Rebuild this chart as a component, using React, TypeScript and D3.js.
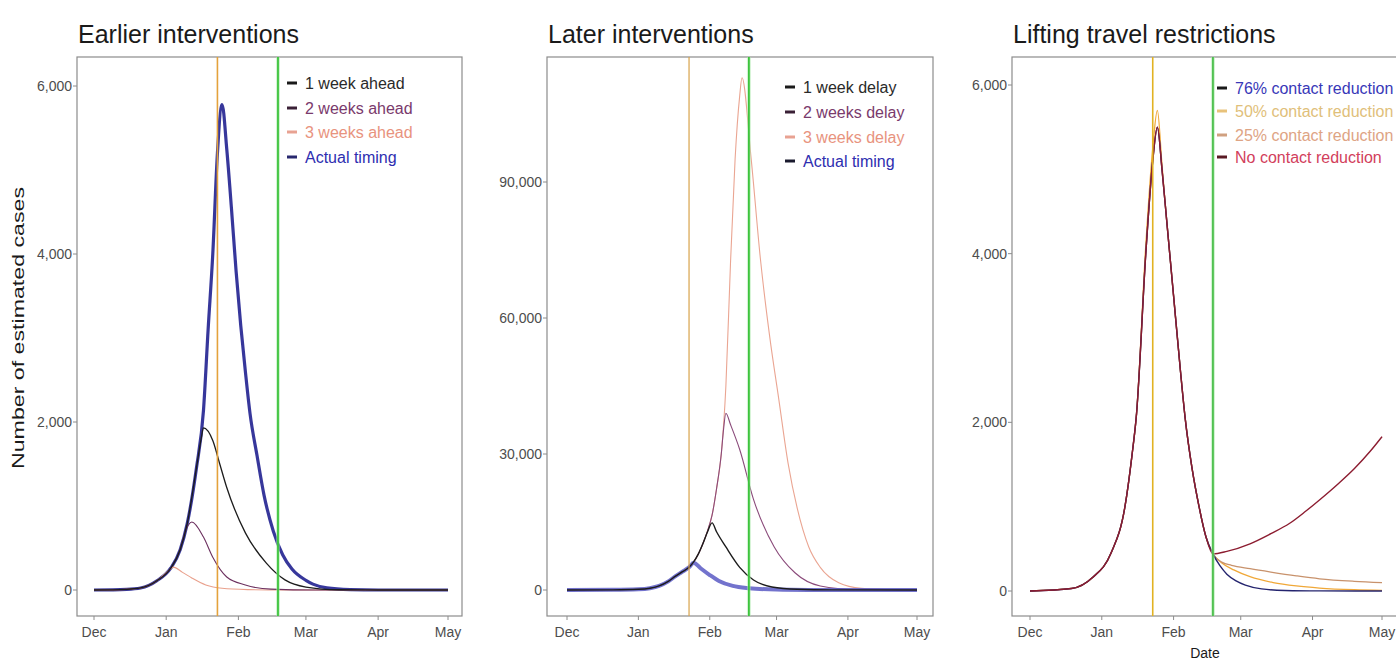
import React from "react";
import * as d3 from "d3";

type Pt = [string, number];

// ---------- shared axis data ----------
const monthTicks = ["2019-12-01", "2020-01-01", "2020-02-01", "2020-03-01", "2020-04-01", "2020-05-01"];
const monthLabels = ["Dec", "Jan", "Feb", "Mar", "Apr", "May"];
const dateStart = "2019-12-01";
const dateEnd = "2020-05-01";
const lockdownDate = "2020-01-23";
const liftDate = "2020-02-18";

const earlierYTicks = [0, 2000, 4000, 6000];
const laterYTicks = [0, 30000, 60000, 90000];
const liftingYTicks = [0, 2000, 4000, 6000];

// ---------- Earlier interventions ----------
const earlierLabels = ["1 week ahead", "2 weeks ahead", "3 weeks ahead", "Actual timing"];
const earlierActual: Pt[] = [
  ["2019-12-01", 0], ["2019-12-15", 8], ["2019-12-21", 24], ["2019-12-28", 110], ["2020-01-03", 262],
  ["2020-01-07", 480], ["2020-01-10", 787], ["2020-01-14", 1455], ["2020-01-17", 2135], ["2020-01-19", 3100],
  ["2020-01-21", 4000], ["2020-01-23", 5200], ["2020-01-25", 5780], ["2020-01-27", 5250], ["2020-01-29", 4550],
  ["2020-01-31", 3800], ["2020-02-02", 3150], ["2020-02-04", 2600], ["2020-02-06", 2100], ["2020-02-09", 1600],
  ["2020-02-12", 1130], ["2020-02-16", 700], ["2020-02-20", 420], ["2020-02-24", 250], ["2020-03-01", 115],
  ["2020-03-04", 70], ["2020-03-10", 25], ["2020-03-20", 5], ["2020-04-01", 0], ["2020-05-01", 0],
];
const earlier1w: Pt[] = [
  ["2019-12-01", 0], ["2019-12-15", 8], ["2019-12-21", 24], ["2019-12-28", 110], ["2020-01-03", 262],
  ["2020-01-07", 480], ["2020-01-10", 787], ["2020-01-14", 1455], ["2020-01-16", 1800], ["2020-01-17", 1930],
  ["2020-01-21", 1780], ["2020-01-24", 1500], ["2020-01-27", 1220], ["2020-02-04", 680], ["2020-02-13", 320],
  ["2020-02-21", 120], ["2020-03-01", 35], ["2020-03-15", 3], ["2020-04-01", 0], ["2020-05-01", 0],
];
const earlier2w: Pt[] = [
  ["2019-12-01", 0], ["2019-12-15", 8], ["2019-12-21", 24], ["2019-12-28", 110], ["2020-01-03", 262],
  ["2020-01-07", 480], ["2020-01-09", 680], ["2020-01-12", 810], ["2020-01-17", 630], ["2020-01-21", 390],
  ["2020-01-27", 155], ["2020-02-04", 60], ["2020-02-15", 10], ["2020-03-05", 0], ["2020-05-01", 0],
];
const earlier3w: Pt[] = [
  ["2019-12-01", 0], ["2019-12-15", 8], ["2019-12-21", 24], ["2019-12-28", 110], ["2020-01-02", 230],
  ["2020-01-04", 272], ["2020-01-08", 210], ["2020-01-12", 143], ["2020-01-18", 60], ["2020-01-25", 20],
  ["2020-02-05", 5], ["2020-02-20", 0], ["2020-05-01", 0],
];

// ---------- Later interventions ----------
const laterLabels = ["1 week delay", "2 weeks delay", "3 weeks delay", "Actual timing"];
const laterActual: Pt[] = [
  ["2019-12-01", 0], ["2019-12-21", 30], ["2020-01-01", 150], ["2020-01-06", 400], ["2020-01-10", 900],
  ["2020-01-14", 1900], ["2020-01-17", 3000], ["2020-01-20", 4000], ["2020-01-23", 5000], ["2020-01-25", 6000],
  ["2020-01-28", 4800], ["2020-02-01", 3300], ["2020-02-05", 2000], ["2020-02-11", 900], ["2020-02-18", 400],
  ["2020-03-01", 100], ["2020-03-15", 20], ["2020-04-01", 0], ["2020-05-01", 0],
];
const later1w: Pt[] = [
  ["2019-12-01", 0], ["2019-12-21", 30], ["2020-01-01", 150], ["2020-01-06", 400], ["2020-01-10", 900],
  ["2020-01-14", 1900], ["2020-01-17", 3000], ["2020-01-20", 4000], ["2020-01-23", 5000], ["2020-01-25", 6200],
  ["2020-01-27", 7900], ["2020-01-29", 10200], ["2020-01-31", 12800], ["2020-02-02", 14800], ["2020-02-04", 12800],
  ["2020-02-08", 9500], ["2020-02-14", 5000], ["2020-02-20", 2200], ["2020-02-28", 660], ["2020-03-10", 150],
  ["2020-03-25", 20], ["2020-05-01", 0],
];
const later2w: Pt[] = [
  ["2019-12-01", 0], ["2019-12-21", 30], ["2020-01-01", 150], ["2020-01-06", 400], ["2020-01-10", 900],
  ["2020-01-14", 1900], ["2020-01-17", 3000], ["2020-01-20", 4000], ["2020-01-23", 5000], ["2020-01-25", 6200],
  ["2020-01-27", 7900], ["2020-01-29", 10200], ["2020-01-31", 13000], ["2020-02-02", 16500], ["2020-02-04", 22500],
  ["2020-02-06", 30000], ["2020-02-07", 35500], ["2020-02-08", 39000], ["2020-02-10", 36500], ["2020-02-14", 31000],
  ["2020-02-20", 20000], ["2020-02-29", 9500], ["2020-03-09", 3800], ["2020-03-20", 900], ["2020-04-05", 120],
  ["2020-05-01", 0],
];
const later3w: Pt[] = [
  ["2019-12-01", 0], ["2019-12-21", 30], ["2020-01-01", 150], ["2020-01-06", 400], ["2020-01-10", 900],
  ["2020-01-14", 1900], ["2020-01-17", 3000], ["2020-01-20", 4000], ["2020-01-23", 5000], ["2020-01-25", 6200],
  ["2020-01-27", 7900], ["2020-01-29", 10200], ["2020-01-31", 13000], ["2020-02-02", 16500], ["2020-02-04", 22500],
  ["2020-02-06", 30000], ["2020-02-08", 45000], ["2020-02-10", 72000], ["2020-02-12", 95000], ["2020-02-14", 109000],
  ["2020-02-15", 113000], ["2020-02-19", 95000], ["2020-02-23", 73000], ["2020-02-27", 56000], ["2020-03-02", 42000],
  ["2020-03-06", 28000], ["2020-03-10", 18000], ["2020-03-15", 9500], ["2020-03-20", 5000], ["2020-03-28", 1600],
  ["2020-04-07", 350], ["2020-04-20", 60], ["2020-05-01", 0],
];

// ---------- Lifting travel restrictions ----------
const liftingLabels = ["76% contact reduction", "50% contact reduction", "25% contact reduction", "No contact reduction"];
const lift76: Pt[] = [
  ["2019-12-01", 0], ["2019-12-19", 30], ["2019-12-28", 160], ["2020-01-05", 450], ["2020-01-11", 1000],
  ["2020-01-14", 1600], ["2020-01-16", 2100], ["2020-01-20", 4000], ["2020-01-23", 5100], ["2020-01-25", 5500],
  ["2020-01-27", 5000], ["2020-01-29", 4400], ["2020-02-01", 3500], ["2020-02-04", 2600], ["2020-02-06", 2050],
  ["2020-02-09", 1450], ["2020-02-12", 1000], ["2020-02-15", 640], ["2020-02-18", 440], ["2020-02-21", 300],
  ["2020-02-24", 200], ["2020-02-28", 120], ["2020-03-03", 70], ["2020-03-10", 25], ["2020-03-20", 6],
  ["2020-04-04", 1], ["2020-05-01", 0],
];
const lift50: Pt[] = [
  ["2019-12-01", 0], ["2019-12-19", 30], ["2019-12-28", 160], ["2020-01-05", 450], ["2020-01-11", 1000],
  ["2020-01-14", 1600], ["2020-01-16", 2100], ["2020-01-20", 4100], ["2020-01-23", 5250], ["2020-01-25", 5700],
  ["2020-01-27", 5050], ["2020-01-29", 4400], ["2020-02-01", 3500], ["2020-02-04", 2600], ["2020-02-06", 2050],
  ["2020-02-09", 1450], ["2020-02-12", 1000], ["2020-02-15", 640], ["2020-02-18", 440], ["2020-02-22", 330],
  ["2020-02-27", 250], ["2020-03-05", 170], ["2020-03-15", 100], ["2020-03-25", 60], ["2020-04-04", 35],
  ["2020-04-19", 15], ["2020-05-01", 8],
];
const lift25: Pt[] = [
  ["2019-12-01", 0], ["2019-12-19", 30], ["2019-12-28", 160], ["2020-01-05", 450], ["2020-01-11", 1000],
  ["2020-01-14", 1600], ["2020-01-16", 2100], ["2020-01-20", 4000], ["2020-01-23", 5100], ["2020-01-25", 5500],
  ["2020-01-27", 5000], ["2020-01-29", 4400], ["2020-02-01", 3500], ["2020-02-04", 2600], ["2020-02-06", 2050],
  ["2020-02-09", 1450], ["2020-02-12", 1000], ["2020-02-15", 640], ["2020-02-18", 440], ["2020-02-22", 340],
  ["2020-02-26", 305], ["2020-03-05", 265], ["2020-03-14", 225], ["2020-03-25", 180], ["2020-04-04", 145],
  ["2020-04-19", 115], ["2020-05-01", 100],
];
const liftNone: Pt[] = [
  ["2019-12-01", 0], ["2019-12-19", 30], ["2019-12-28", 160], ["2020-01-05", 450], ["2020-01-11", 1000],
  ["2020-01-14", 1600], ["2020-01-16", 2100], ["2020-01-20", 4000], ["2020-01-23", 5100], ["2020-01-25", 5500],
  ["2020-01-27", 5000], ["2020-01-29", 4400], ["2020-02-01", 3500], ["2020-02-04", 2600], ["2020-02-06", 2050],
  ["2020-02-09", 1450], ["2020-02-12", 1000], ["2020-02-15", 640], ["2020-02-18", 440], ["2020-02-24", 470],
  ["2020-03-05", 560], ["2020-03-14", 680], ["2020-03-22", 800], ["2020-03-29", 945], ["2020-04-04", 1080],
  ["2020-04-12", 1270], ["2020-04-19", 1450], ["2020-04-26", 1660], ["2020-05-01", 1830],
];

// ---------- rendering ----------
const FONT = "'Liberation Sans', Arial, Helvetica, sans-serif";
const parse = d3.timeParse("%Y-%m-%d");

type Series = { data: Pt[]; color: string; width: number; opacity?: number };
type LegendItem = { label: string; key: string; text: string };
type PanelCfg = {
  title: string;
  box: { l: number; r: number; t: number; b: number };
  xr: [number, number];
  yr: [number, number];
  ydom: [number, number];
  yTicks: number[];
  series: Series[];
  legend: LegendItem[];
  legendX: number;
  legendY: number[];
  orange: string;
  orangeW: number;
  green: string;
};

function Panel({ cfg }: { cfg: PanelCfg }) {
  const x = d3.scaleTime().domain([parse(dateStart)!, parse(dateEnd)!]).range(cfg.xr);
  const y = d3.scaleLinear().domain(cfg.ydom).range(cfg.yr);
  const line = d3
    .line<Pt>()
    .x((d) => x(parse(d[0])!))
    .y((d) => y(d[1]))
    .curve(d3.curveMonotoneX);
  const fmt = d3.format(",");
  const { l, r, t, b } = cfg.box;
  const xo = x(parse(lockdownDate)!);
  const xg = x(parse(liftDate)!);
  return (
    <g>
      <text x={l + 1} y={43} fontSize={25} fontFamily={FONT} fill="#1a1a1a">
        {cfg.title}
      </text>
      <rect x={l} y={t} width={r - l} height={b - t} fill="#fff" stroke="#8c8c8c" strokeWidth={1.2} />
      {cfg.yTicks.map((v) => (
        <g key={"y" + v}>
          <line x1={l - 4} x2={l} y1={y(v)} y2={y(v)} stroke="#8c8c8c" strokeWidth={1} />
          <text x={l - 5} y={y(v)} dy="0.35em" textAnchor="end" fontSize={14} fontFamily={FONT} fill="#4d4d4d">
            {fmt(v)}
          </text>
        </g>
      ))}
      {monthTicks.map((m, i) => (
        <g key={"x" + m}>
          <line x1={x(parse(m)!)} x2={x(parse(m)!)} y1={b} y2={b + 4} stroke="#8c8c8c" strokeWidth={1} />
          <text x={x(parse(m)!)} y={637} textAnchor="middle" fontSize={14} fontFamily={FONT} fill="#4d4d4d">
            {monthLabels[i]}
          </text>
        </g>
      ))}
      {cfg.series.map((s, i) => (
        <path
          key={"s" + i}
          d={line(s.data) || ""}
          fill="none"
          stroke={s.color}
          strokeWidth={s.width}
          strokeOpacity={s.opacity ?? 1}
          strokeLinejoin="round"
        />
      ))}
      <line x1={xo} x2={xo} y1={t} y2={b} stroke={cfg.orange} strokeWidth={cfg.orangeW} />
      <line x1={xg} x2={xg} y1={t} y2={b} stroke="#a8e8a8" strokeWidth={4} strokeOpacity={0.5} />
      <line x1={xg} x2={xg} y1={t} y2={b} stroke={cfg.green} strokeWidth={1.8} />
      {cfg.legend.map((it, i) => (
        <g key={"lg" + i}>
          <line
            x1={cfg.legendX}
            x2={cfg.legendX + 10}
            y1={cfg.legendY[i]}
            y2={cfg.legendY[i]}
            stroke={it.key}
            strokeWidth={3}
          />
          <text
            x={cfg.legendX + 18}
            y={cfg.legendY[i]}
            dy="0.36em"
            fontSize={16}
            fontFamily={FONT}
            fill={it.text}
          >
            {it.label}
          </text>
        </g>
      ))}
    </g>
  );
}

export default function App() {
  const panels: PanelCfg[] = [
    {
      title: "Earlier interventions",
      box: { l: 77, r: 462, t: 57, b: 616 },
      xr: [94, 448],
      yr: [590, 86],
      ydom: [0, 6000],
      yTicks: earlierYTicks,
      series: [
        { data: earlierActual, color: "#2c2c96", width: 3.2, opacity: 0.95 },
        { data: earlier3w, color: "#e9a08c", width: 1.1 },
        { data: earlier2w, color: "#6b2f5e", width: 1.1 },
        { data: earlier1w, color: "#1c1c1c", width: 1.3 },
      ],
      legend: [
        { label: earlierLabels[0], key: "#1a1a1a", text: "#2a2a2a" },
        { label: earlierLabels[1], key: "#3a2036", text: "#7a3a6c" },
        { label: earlierLabels[2], key: "#e8a292", text: "#e8937e" },
        { label: earlierLabels[3], key: "#28286e", text: "#2e2eb0" },
      ],
      legendX: 287,
      legendY: [83, 108, 132, 157],
      orange: "#e4a23c",
      orangeW: 1.6,
      green: "#3cc43c",
    },
    {
      title: "Later interventions",
      box: { l: 547, r: 933, t: 57, b: 616 },
      xr: [567, 917],
      yr: [590, 182],
      ydom: [0, 90000],
      yTicks: laterYTicks,
      series: [
        { data: later3w, color: "#eaa592", width: 1.1 },
        { data: later2w, color: "#8a4a7a", width: 1.1 },
        { data: laterActual, color: "#5a5ac4", width: 4, opacity: 0.85 },
        { data: later1w, color: "#1c1c1c", width: 1.4 },
      ],
      legend: [
        { label: laterLabels[0], key: "#1a1a1a", text: "#2a2a2a" },
        { label: laterLabels[1], key: "#3a2036", text: "#7a3a6c" },
        { label: laterLabels[2], key: "#e8a292", text: "#e8937e" },
        { label: laterLabels[3], key: "#1a1a2e", text: "#2e2eb0" },
      ],
      legendX: 785,
      legendY: [87, 112, 137, 161],
      orange: "#d8a24a",
      orangeW: 1.2,
      green: "#3cc43c",
    },
    {
      title: "Lifting travel restrictions",
      box: { l: 1012, r: 1398, t: 57, b: 616 },
      xr: [1030, 1382],
      yr: [591, 85],
      ydom: [0, 6000],
      yTicks: liftingYTicks,
      series: [
        { data: lift50, color: "#f0a838", width: 1.3 },
        { data: lift25, color: "#c8926c", width: 1.3 },
        { data: lift76, color: "#24246e", width: 1.4 },
        { data: liftNone, color: "#8c1c30", width: 1.4 },
      ],
      legend: [
        { label: liftingLabels[0], key: "#1a1a1a", text: "#3838b8" },
        { label: liftingLabels[1], key: "#e8c27a", text: "#dfc07a" },
        { label: liftingLabels[2], key: "#d0a080", text: "#dea484" },
        { label: liftingLabels[3], key: "#5a1a24", text: "#d2405c" },
      ],
      legendX: 1217,
      legendY: [88, 111, 135, 157],
      orange: "#e2b222",
      orangeW: 1.6,
      green: "#4cbf4c",
    },
  ];

  return (
    <svg
      width={1396}
      height={661}
      style={{ position: "absolute", left: 0, top: 0, background: "#fff" }}
      xmlns="http://www.w3.org/2000/svg"
    >
      <rect x={0} y={0} width={1396} height={661} fill="#fff" />
      {panels.map((p, i) => (
        <Panel key={i} cfg={p} />
      ))}
      <text
        transform="translate(24,328) rotate(-90)"
        textAnchor="middle"
        fontSize={17}
        fontFamily={FONT}
        fill="#1a1a1a"
        textLength={282}
        lengthAdjust="spacingAndGlyphs"
      >
        Number of estimated cases
      </text>
      <text x={1205} y={658} textAnchor="middle" fontSize={14} fontFamily={FONT} fill="#1a1a1a">
        Date
      </text>
    </svg>
  );
}
